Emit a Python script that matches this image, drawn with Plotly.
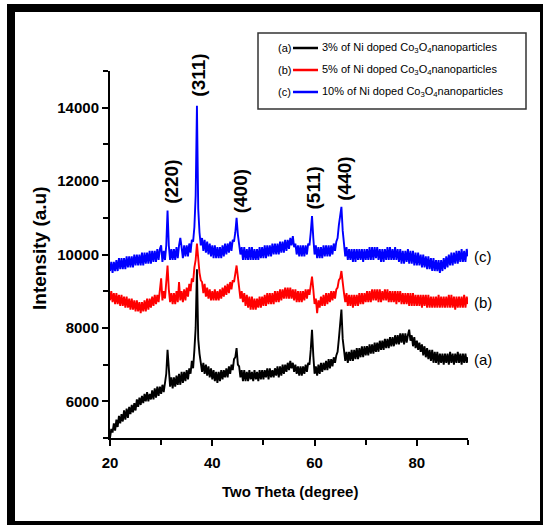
import plotly.graph_objects as go

# ---- data ----
TWO_THETA_START = 20.0
TWO_THETA_STEP = 0.25

# (a) 3% Ni doped Co3O4
intensity_a = [
    5000, 5250, 5150, 5400, 5200, 5500, 5300, 5600, 5400, 5650, 5450, 5750, 5500, 5800, 5550, 5850, 5650, 5900, 5700, 5950,
    5750, 6050, 5850, 6100, 5900, 6150, 5950, 6200, 6000, 6250, 6000, 6200, 6050, 6300, 6050, 6350, 6100, 6400, 6150, 6400,
    6200, 6450, 6250, 6500, 6750, 7400, 6850, 6400, 6650, 6350, 6650, 6400, 6700, 6450, 6750, 6450, 6800, 6500, 6800, 6550,
    6850, 6600, 6900, 6750, 7100, 6900, 7400, 8000, 9600, 7700, 7300, 7100, 6800, 7050, 6750, 7000, 6700, 6950, 6650, 6900,
    6600, 6850, 6550, 6800, 6500, 6800, 6550, 6850, 6600, 6850, 6650, 6900, 6650, 6950, 6750, 7000, 6850, 7150, 7200, 7450,
    7000, 6950, 6650, 6850, 6550, 6850, 6550, 6800, 6550, 6850, 6600, 6800, 6550, 6850, 6600, 6800, 6550, 6850, 6600, 6850,
    6600, 6850, 6650, 6900, 6600, 6900, 6650, 6850, 6650, 6900, 6700, 6950, 6650, 6950, 6700, 7000, 6750, 7000, 6800, 7050,
    6850, 7100, 6900, 7050, 6800, 7000, 6750, 6950, 6700, 6950, 6700, 6950, 6750, 7000, 6800, 7050, 7000, 7400, 7950, 7250,
    6750, 6950, 6700, 7000, 6750, 7050, 6800, 7050, 6850, 7100, 6850, 7150, 6900, 7150, 6950, 7200, 7050, 7250, 7350, 7700,
    8100, 8500, 7700, 7400, 7100, 7350, 7050, 7350, 7100, 7400, 7100, 7400, 7150, 7450, 7150, 7450, 7200, 7500, 7200, 7500,
    7250, 7500, 7250, 7550, 7300, 7550, 7300, 7600, 7350, 7600, 7350, 7650, 7400, 7650, 7400, 7700, 7450, 7700, 7450, 7750,
    7500, 7750, 7500, 7800, 7550, 7800, 7550, 7850, 7600, 7850, 7550, 7850, 7600, 7800, 7950, 7650, 7800, 7500, 7750, 7450,
    7650, 7400, 7600, 7350, 7550, 7250, 7500, 7200, 7450, 7150, 7400, 7100, 7400, 7050, 7350, 7050, 7350, 7000, 7300, 7050,
    7300, 7000, 7300, 7050, 7300, 7000, 7350, 7050, 7300, 7000, 7300, 7050, 7350, 7050, 7300, 7000, 7300, 7050, 7300, 7050,
    7200,
]

# (b) 5% Ni doped Co3O4
intensity_b = [
    8750, 9000, 8700, 8950, 8650, 8950, 8650, 8900, 8600, 8900, 8600, 8850, 8550, 8850, 8550, 8800, 8500, 8800, 8500, 8750,
    8450, 8750, 8450, 8700, 8400, 8700, 8450, 8750, 8450, 8800, 8500, 8800, 8550, 8850, 8600, 8900, 8650, 8900, 8700, 9000,
    9350, 8750, 9000, 8800, 9150, 9700, 9050, 8700, 8950, 8650, 8950, 8650, 9000, 8700, 9250, 8750, 9000, 8700, 9050, 8750,
    9100, 8850, 9200, 9000, 9350, 9250, 9650, 9850, 10300, 9750, 9500, 9300, 9250, 8950, 9200, 8850, 9100, 8800, 9050, 8750,
    9000, 8750, 9050, 8750, 9000, 8750, 9050, 8800, 9100, 8850, 9150, 8900, 9200, 8950, 9250, 9050, 9300, 9250, 9500, 9700,
    9400, 9150, 8800, 9000, 8700, 8950, 8600, 8900, 8550, 8850, 8500, 8850, 8500, 8800, 8500, 8800, 8550, 8850, 8550, 8850,
    8600, 8900, 8600, 8950, 8650, 8950, 8650, 8950, 8650, 9000, 8700, 9000, 8700, 9050, 8750, 9050, 8800, 9100, 8800, 9100,
    8800, 9100, 8800, 9050, 8750, 9050, 8700, 9000, 8700, 9000, 8700, 9000, 8750, 9050, 8800, 9050, 8900, 9150, 9400, 9050,
    8650, 8800, 8400, 8750, 8550, 8850, 8600, 8900, 8600, 8950, 8650, 8950, 8700, 9000, 8750, 9000, 8800, 9050, 9100, 9300,
    9350, 9550, 9150, 8950, 8700, 8950, 8600, 8900, 8600, 8900, 8550, 8900, 8600, 8900, 8600, 8950, 8650, 8950, 8650, 8950,
    8700, 9000, 8700, 9000, 8700, 9050, 8750, 9050, 8750, 9050, 8700, 9050, 8700, 9000, 8750, 9050, 8750, 9050, 8700, 9000,
    8700, 9000, 8700, 9000, 8650, 9000, 8700, 9000, 8650, 8950, 8650, 8950, 8650, 8950, 8600, 8950, 8600, 8950, 8600, 8900,
    8600, 8900, 8600, 8900, 8550, 8900, 8600, 8900, 8550, 8900, 8550, 8850, 8550, 8850, 8550, 8850, 8550, 8900, 8550, 8850,
    8550, 8850, 8550, 8850, 8550, 8900, 8550, 8900, 8550, 8850, 8500, 8850, 8550, 8850, 8550, 8850, 8550, 8900, 8550, 8850,
    8650,
]

# (c) 10% Ni doped Co3O4
intensity_c = [
    9550, 9800, 9500, 9800, 9550, 9850, 9550, 9900, 9600, 9900, 9600, 9900, 9600, 9950, 9650, 9950, 9650, 9950, 9650, 10000,
    9700, 10000, 9700, 10000, 9700, 10050, 9700, 10050, 9750, 10050, 9750, 10100, 9750, 10100, 9800, 10100, 9800, 10150, 9850, 10150,
    10250, 9800, 10100, 9850, 10250, 11200, 10250, 9850, 10150, 9850, 10150, 9850, 10200, 9900, 10250, 10450, 10200, 9900, 10250, 9950,
    10250, 9950, 10300, 10050, 10400, 10350, 10750, 11600, 14050, 11250, 10600, 10250, 10450, 10100, 10400, 10050, 10350, 10000, 10300, 9950,
    10250, 9900, 10250, 9900, 10200, 9900, 10200, 9900, 10250, 9950, 10300, 10000, 10300, 10050, 10350, 10100, 10400, 10350, 10600, 11000,
    10550, 10300, 10000, 10200, 9850, 10200, 9850, 10150, 9850, 10200, 9850, 10200, 9850, 10150, 9850, 10150, 9850, 10200, 9900, 10200,
    9900, 10250, 9900, 10250, 9950, 10250, 9950, 10300, 10000, 10300, 10000, 10300, 10000, 10350, 10050, 10350, 10050, 10400, 10100, 10400,
    10150, 10450, 10250, 10500, 10200, 10300, 10000, 10250, 9950, 10250, 9950, 10250, 9950, 10250, 10000, 10300, 10250, 10600, 11050, 10450,
    10000, 10250, 9900, 10200, 9900, 10200, 9900, 10250, 9950, 10250, 9950, 10250, 9950, 10250, 10000, 10300, 10100, 10350, 10450, 10800,
    11000, 11300, 10650, 10300, 9950, 10200, 9850, 10150, 9850, 10150, 9800, 10150, 9800, 10150, 9850, 10150, 9850, 10150, 9800, 10150,
    9850, 10150, 9850, 10200, 9850, 10200, 9850, 10200, 9900, 10200, 9850, 10150, 9800, 10150, 9800, 10150, 9850, 10200, 9850, 10200,
    9850, 10150, 9850, 10200, 9850, 10150, 9800, 10150, 9750, 10100, 9750, 10100, 9800, 10150, 9750, 10100, 9750, 10100, 9700, 10050,
    9700, 10050, 9700, 10000, 9650, 10000, 9650, 9950, 9600, 9950, 9600, 9900, 9550, 9900, 9550, 9850, 9550, 9850, 9500, 9850,
    9550, 9900, 9600, 9950, 9650, 10000, 9700, 10050, 9700, 10050, 9750, 10100, 9750, 10100, 9800, 10150, 9800, 10100, 9800, 10150,
    9950,
]

series_names = ["3% of Ni doped Co<sub>3</sub>O<sub>4</sub>nanoparticles",
                "5% of Ni doped Co<sub>3</sub>O<sub>4</sub>nanoparticles",
                "10% of Ni doped Co<sub>3</sub>O<sub>4</sub>nanoparticles"]
series_tags = ["(a)", "(b)", "(c)"]
series_colors = ["#000000", "#ff0000", "#0000ff"]
series_end_levels = [7150, 8700, 9950]

peak_labels = ["(220)", "(311)", "(400)", "(511)", "(440)"]
peak_label_x = [32.0, 37.4, 45.4, 59.7, 65.8]
peak_label_y = [11990, 14900, 11720, 11800, 12070]

# ---- layout geometry (pixels) ----
W, H = 543, 525
L, R, T, B = 110, 468, 71, 438
PW, PH = R - L, B - T


def px(x):
    return (x - L) / PW


def py(y):
    return (B - y) / PH


def grid(n):
    return [TWO_THETA_START + TWO_THETA_STEP * i for i in range(n)]


fig = go.Figure()
series = [intensity_a, intensity_b, intensity_c]
for idx in [1, 2, 0]:
    fig.add_trace(go.Scatter(x=grid(len(series[idx])), y=series[idx], mode="lines",
                             line=dict(color=series_colors[idx], width=1.9),
                             showlegend=False, hoverinfo="skip"))

TICKFONT = dict(family="Liberation Sans, Arial, sans-serif", size=15, color="black", weight="bold")
fig.update_layout(
    width=W, height=H,
    margin=dict(l=L, r=W - R, t=T, b=H - B),
    paper_bgcolor="white", plot_bgcolor="white",
    xaxis=dict(range=[20, 90], tick0=0, dtick=20, showgrid=False, zeroline=False,
               showline=True, linecolor="black", linewidth=2,
               ticks="outside", ticklen=6, tickwidth=1.5, tickcolor="black",
               tickfont=TICKFONT, ticklabelstandoff=4, tickformat="d",
               minor=dict(dtick=10, ticks="outside", ticklen=5, tickwidth=1.5, tickcolor="black")),
    yaxis=dict(range=[5000, 15000], tick0=0, dtick=2000, showgrid=False, zeroline=False,
               showline=True, linecolor="black", linewidth=2,
               ticks="outside", ticklen=6, tickwidth=1.5, tickcolor="black",
               tickfont=TICKFONT, tickformat="d",
               minor=dict(dtick=1000, ticks="outside", ticklen=5, tickwidth=1.5, tickcolor="black")),
)

shapes = []
annotations = []

# outer black frame
shapes.append(dict(type="rect", xref="paper", yref="paper",
                   x0=px(11), x1=px(544), y0=py(525), y1=py(8),
                   line=dict(color="black", width=8), fillcolor="rgba(0,0,0,0)", layer="above"))

# axis titles
annotations.append(dict(text="<b>Two Theta (degree)</b>", xref="paper", yref="paper",
                        x=px(290), y=py(491), showarrow=False, xanchor="center", yanchor="middle",
                        font=dict(family="Liberation Sans, Arial, sans-serif", size=15, color="black")))
annotations.append(dict(text="<b>Intensity (a.u)</b>", xref="paper", yref="paper",
                        x=px(39), y=py(248), showarrow=False, textangle=-90,
                        xanchor="center", yanchor="middle",
                        font=dict(family="Liberation Sans, Arial, sans-serif", size=19, color="black")))

# peak labels
for lab, lx, ly in zip(peak_labels, peak_label_x, peak_label_y):
    annotations.append(dict(text="<b>" + lab + "</b>", x=lx, y=ly, xref="x", yref="y",
                            showarrow=False, textangle=-90, xanchor="center", yanchor="middle",
                            font=dict(family="Liberation Sans, Arial, sans-serif", size=19, color="black")))

# series end labels
for tag, lvl in zip(series_tags, series_end_levels):
    annotations.append(dict(text=tag, x=1.0, y=lvl, xref="paper", yref="y", xshift=4,
                            showarrow=False, xanchor="left", yanchor="middle",
                            font=dict(family="Liberation Sans, Arial, sans-serif", size=15, color="black")))

# legend box
shapes.append(dict(type="rect", xref="paper", yref="paper",
                   x0=px(258), x1=px(526), y0=py(109), y1=py(33),
                   line=dict(color="#333333", width=1.5), fillcolor="white"))
row_y = [48, 70, 92]
LEGFONT = dict(family="Liberation Sans, Arial, sans-serif", size=11, color="black")
for i in range(3):
    yy = py(row_y[i])
    annotations.append(dict(text=series_tags[i], x=px(293), y=yy, xref="paper", yref="paper",
                            showarrow=False, xanchor="right", yanchor="middle", font=LEGFONT))
    shapes.append(dict(type="line", xref="paper", yref="paper", x0=px(293), x1=px(318),
                       y0=yy, y1=yy, line=dict(color=series_colors[i], width=2.5)))
    annotations.append(dict(text=series_names[i], x=px(320), y=yy, xref="paper", yref="paper",
                            showarrow=False, xanchor="left", yanchor="middle", font=LEGFONT))

fig.update_layout(shapes=shapes, annotations=annotations)
fig.write_html("out.html")
